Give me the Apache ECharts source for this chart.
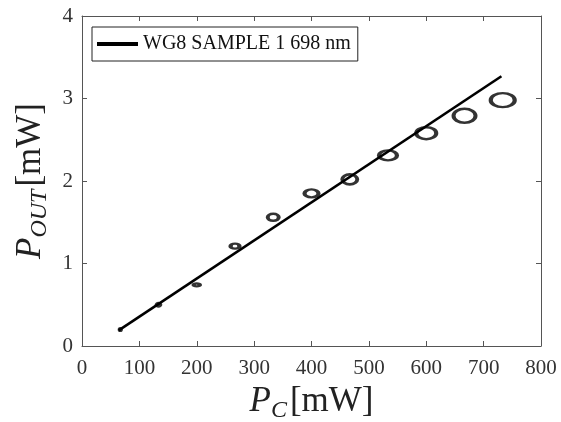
<!DOCTYPE html>
<html>
<head>
<meta charset="utf-8">
<script src="https://cdn.jsdelivr.net/npm/echarts@6/dist/echarts.min.js"></script>
<style>
  html, body { margin: 0; padding: 0; background: #fff; }
  #chart { width: 561px; height: 422px; }
</style>
</head>
<body>
<div id="chart"></div>
<script>
// measured points (P_C, P_OUT)
var pcVals = [66.7, 133.3, 200, 266.7, 333.3, 400, 466.7, 533.3, 600, 666.7, 733.3];
var poutVals = [0.2, 0.5, 0.74, 1.21, 1.56, 1.85, 2.02, 2.31, 2.58, 2.79, 2.98];
// linear fit end points
var fitX = [64, 731];
var fitY = [0.19, 3.27];
var xTicks = [0, 100, 200, 300, 400, 500, 600, 700, 800];
var yTicks = [0, 1, 2, 3, 4];
var seriesName = 'WG8 SAMPLE 1 698 nm';

// marker ellipse sizes (w, h) in px, they grow with power
var markW = [2, 4, 6, 9, 11, 14, 15, 18, 20, 22, 24];
var markH = [2, 3, 3, 5, 7, 8, 10, 10, 12, 14, 14];

var serif = 'Liberation Serif';
var axisCol = '#555';

var points = pcVals.map(function (x, i) {
    return { value: [x, poutVals[i]], symbolSize: [markW[i], markH[i]] };
});
var fitLine = fitX.map(function (x, i) { return [x, fitY[i]]; });

var nameRich = {
    i: { fontFamily: serif, fontStyle: 'italic', fontSize: 35, color: '#222' },
    s: { fontFamily: serif, fontStyle: 'italic', fontSize: 24, color: '#222', padding: [18, 3, 0, 0] },
    n: { fontFamily: serif, fontSize: 35, color: '#222' }
};

var myChart = echarts.init(document.getElementById('chart'));

var option = {
    backgroundColor: '#fff',
    animation: false,
    grid: { left: 82, right: 20, top: 16, bottom: 76, show: false,
        containLabel: false, outerBoundsMode: 'none' },
    legend: {
        data: [seriesName],
        left: 92, top: 27,
        padding: [7, 7, 7, 5],
        borderColor: '#222', borderWidth: 1,
        backgroundColor: '#fff',
        icon: 'rect', itemWidth: 41, itemHeight: 4,
        textStyle: { fontFamily: serif, fontSize: 20, color: '#111' }
    },
    xAxis: [{
        type: 'value', min: 0, max: 800, interval: 100,
        name: '{i|P}{s|C}{n|[mW]}',
        nameLocation: 'middle', nameGap: 35,
        nameTextStyle: { rich: nameRich },
        axisLine: { show: true, onZero: false, lineStyle: { color: axisCol, width: 1 } },
        axisTick: { show: true, inside: true, length: 5, lineStyle: { color: axisCol } },
        axisLabel: { fontFamily: serif, fontSize: 21, color: '#333', margin: 12,
            formatter: function (v) { return xTicks.indexOf(v) >= 0 ? String(v) : ''; } },
        splitLine: { show: false }
    }, {
        type: 'value', position: 'top', min: 0, max: 800, interval: 100,
        axisLine: { show: true, onZero: false, lineStyle: { color: axisCol, width: 1 } },
        axisTick: { show: true, inside: true, length: 5, lineStyle: { color: axisCol } },
        axisLabel: { show: false },
        splitLine: { show: false }
    }],
    yAxis: [{
        type: 'value', min: 0, max: 4, interval: 1,
        name: '{i|P}{s|OUT}{n|[mW]}',
        nameLocation: 'middle', nameGap: 28, nameRotate: 90,
        nameTextStyle: { rich: nameRich },
        axisLine: { show: true, onZero: false, lineStyle: { color: axisCol, width: 1 } },
        axisTick: { show: true, inside: true, length: 5, lineStyle: { color: axisCol } },
        axisLabel: { fontFamily: serif, fontSize: 21, color: '#333', margin: 9,
            formatter: function (v) { return yTicks.indexOf(v) >= 0 ? String(v) : ''; } },
        splitLine: { show: false }
    }, {
        type: 'value', position: 'right', min: 0, max: 4, interval: 1,
        axisLine: { show: true, onZero: false, lineStyle: { color: axisCol, width: 1 } },
        axisTick: { show: true, inside: true, length: 5, lineStyle: { color: axisCol } },
        axisLabel: { show: false },
        splitLine: { show: false }
    }],
    series: [{
        name: seriesName,
        type: 'line',
        data: fitLine,
        showSymbol: false,
        lineStyle: { color: '#000', width: 2.6 },
        itemStyle: { color: '#000' },
        z: 3
    }, {
        name: 'data',
        type: 'scatter',
        data: points,
        symbol: 'circle',
        itemStyle: { color: 'rgba(0,0,0,0)', borderColor: '#000', borderWidth: 3.2 },
        z: 4
    }]
};
myChart.setOption(option);
</script>
</body>
</html>
